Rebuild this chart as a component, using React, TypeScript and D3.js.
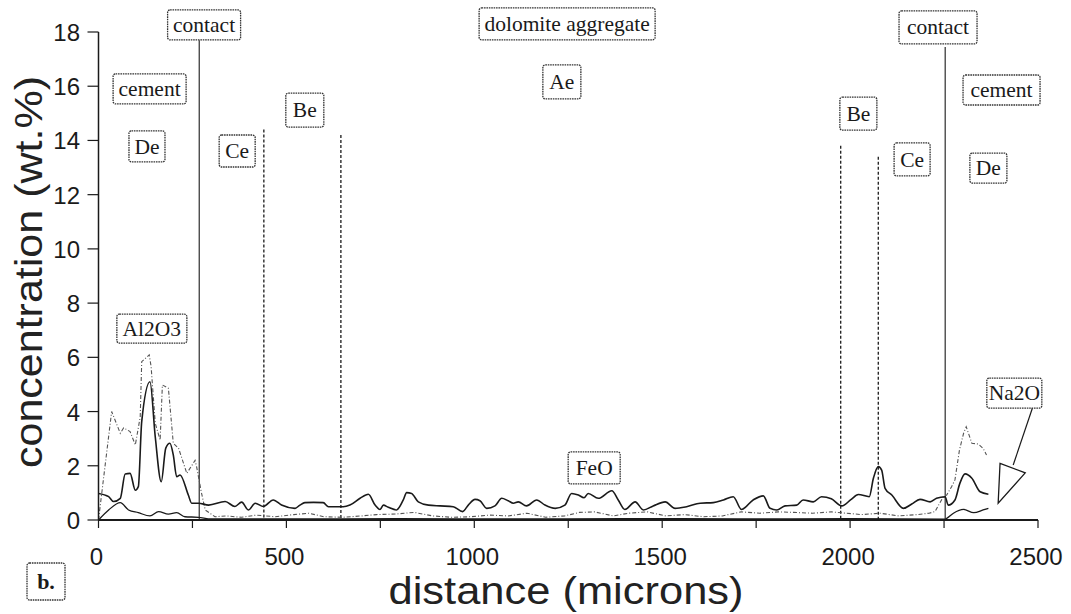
import React from "react";
import * as d3 from "d3";

// ---------- data ----------
const feoX = [0,27,40,58,71,84,98,106,115,137,151,167,179,190,199,208,217,239,248,266,293,337,363,381,399,417,439,465,487,523,536,549,572,598,612,651,669,696,718,736,749,758,771,793,811,820,833,851,878,909,944,969,984,1002,1015,1033,1055,1073,1090,1104,1117,1139,1166,1188,1215,1241,1259,1277,1292,1303,1330,1366,1383,1401,1428,1450,1476,1508,1534,1565,1601,1636,1663,1689,1711,1742,1769,1787,1805,1827,1858,1875,1902,1924,1950,1978,2002,2022,2051,2062,2075,2084,2093,2111,2142,2164,2186,2213,2230,2253,2261,2279,2292,2306,2324,2346,2368];
const feoY = [0.98,0.86,0.68,0.8,1.7,1.72,1.1,1.23,3.63,5.1,3.07,1.41,2.65,2.83,2.4,1.6,1.66,0.92,0.62,0.62,0.55,0.68,0.5,0.66,0.37,0.62,0.5,0.74,0.55,0.43,0.55,0.64,0.65,0.64,0.49,0.49,0.55,0.8,0.95,0.55,0.39,0.55,0.47,0.37,0.74,1.01,0.98,0.67,0.55,0.52,0.49,0.31,0.55,0.76,0.71,0.43,0.52,0.8,0.71,0.62,0.67,0.52,0.74,0.55,0.43,0.55,0.98,0.92,0.82,0.98,0.8,1.08,0.74,0.39,0.67,0.37,0.52,0.67,0.43,0.49,0.62,0.64,0.74,0.86,0.39,0.74,0.89,0.43,0.37,0.52,0.55,0.74,0.67,0.86,0.78,0.52,0.75,0.94,0.86,1.54,1.97,1.84,1.17,0.92,0.43,0.59,0.76,0.67,0.8,0.86,0.55,0.74,1.35,1.7,1.54,1.04,0.95];

const al2o3X = [0,35,58,67,84,98,111,115,135,140,151,164,170,186,199,213,235,257,261,274,284,310,340,380,420,470,520,560,600,650,700,740,790,840,890,940,990,1040,1090,1140,1190,1240,1280,1320,1370,1410,1460,1510,1560,1610,1660,1710,1760,1810,1850,1900,1950,1990,2030,2080,2130,2180,2210,2226,2248,2257,2270,2279,2291,2302,2309,2324,2341,2354,2363];
const al2o3Y = [0,4.0,3.2,3.4,3.26,2.77,3.8,5.84,6.09,5.66,3.57,2.95,4.98,4.86,2.83,2.65,1.72,2.2,1.97,1.0,0.37,0.12,0.15,0.1,0.18,0.12,0.2,0.25,0.12,0.1,0.15,0.2,0.22,0.28,0.15,0.1,0.12,0.18,0.15,0.25,0.1,0.15,0.28,0.3,0.15,0.25,0.3,0.15,0.2,0.12,0.15,0.3,0.25,0.3,0.28,0.25,0.3,0.25,0.2,0.25,0.15,0.2,0.25,0.31,0.86,0.92,1.23,1.48,2.58,3.2,3.44,2.83,2.8,2.64,2.4];

const na2oX = [0,27,58,80,106,137,160,186,208,230,266,300,500,800,1100,1400,1700,2000,2253,2257,2275,2302,2329,2354,2368];
const na2oY = [0,0.37,0.64,0.37,0.27,0.15,0.31,0.22,0.27,0.12,0.1,0.04,0.04,0.05,0.04,0.05,0.04,0.05,0.03,0.06,0.25,0.39,0.27,0.37,0.43];

const xTicks = [0,250,500,750,1000,1250,1500,1750,2000,2250,2500];
const xTickLabels = ["0","","500","","1000","","1500","","2000","","2500"];
const yTicks = [0,2,4,6,8,10,12,14,16,18];

// boundary lines: position (microns), top (wt.%), dashed?
const boundX = [268,440,645,1975,2075,2253];
const boundTop = [17.7,14.4,14.2,13.8,13.4,17.45];
const boundDashed = [false,true,true,true,true,false];

// annotation labels: text, centre x (microns), centre y (wt.%)
const noteText = ["contact","cement","De","Ce","Be","dolomite aggregate","Ae","contact","cement","Be","Ce","De","Na2O","Al2O3","FeO"];
const noteX = [281,136,129,369,549,1247,1233,2234,2403,2022,2165,2368,2437,142,1319];
const noteY = [18.26,15.9,13.78,13.61,15.12,18.3,16.16,18.17,15.86,14.99,13.3,12.98,4.68,7.06,1.92];
const noteW = [73,73,36,36,38,176,38,78,77,37,36,37,55,70,52];
const noteH = [30,30,31,32,34,32,34,33,30,33,33,30,30,29,32];

// Na2O arrow (microns, wt.%)
const arrowLine = [[2485,4.12],[2434,2.03]];
const arrowHead = [[2399,2.09],[2466,1.74],[2394,0.62]];

const W = 1071, H = 614;
const SANS = "'Liberation Sans', Arial, sans-serif";
const SERIF = "'Liberation Serif', 'Times New Roman', serif";
const INK = "#1a1a1a";

export default function App() {
  const x = d3.scaleLinear().domain([0, 2500]).range([98.5, 1038]);
  const y = d3.scaleLinear().domain([0, 18]).range([520, 32]);

  const mk = (xs: number[], ys: number[], curve: any) =>
    d3.line<number>().x((_, i) => x(xs[i])).y((_, i) => y(ys[i])).curve(curve)(xs.map((_, i) => i)) || "";

  const feoPath = mk(feoX, feoY, d3.curveMonotoneX);
  const alPath = mk(al2o3X, al2o3Y, d3.curveLinear);
  const naPath = mk(na2oX, na2oY, d3.curveMonotoneX);

  const box = (t: string, cx: number, cy: number, w: number, h: number, key: string, bold = false, fs = 21.5) => (
    <g key={key}>
      <rect x={cx - w / 2} y={cy - h / 2} width={w} height={h} rx={2.5} fill="#fff"
        stroke="#333" strokeWidth={1.3} strokeDasharray="1.6 0.8" />
      <text x={cx} y={cy + fs * 0.33} textAnchor="middle" fontFamily={SERIF} fontSize={fs}
        fontWeight={bold ? "bold" : "normal"} fill={INK}>{t}</text>
    </g>
  );

  return (
    <svg width={W} height={H} style={{ position: "absolute", left: 0, top: 0, background: "#fff" }}>
      {/* boundary lines */}
      {boundX.map((b, i) => (
        <line key={"b" + i} x1={x(b)} x2={x(b)} y1={y(boundTop[i])} y2={y(0)}
          stroke={INK} strokeWidth={boundDashed[i] ? 1.3 : 1.1}
          strokeDasharray={boundDashed[i] ? "3 2" : undefined} />
      ))}

      {/* series */}
      <path d={naPath} fill="none" stroke={INK} strokeWidth={1.3} />
      <path d={alPath} fill="none" stroke="#555" strokeWidth={1.1} strokeDasharray="4 2 1 2" />
      <path d={feoPath} fill="none" stroke={INK} strokeWidth={1.6} />

      {/* axes */}
      <line x1={x(0)} x2={x(0)} y1={y(18)} y2={y(0)} stroke={INK} strokeWidth={1.5} />
      <line x1={x(0)} x2={x(2500)} y1={y(0)} y2={y(0)} stroke={INK} strokeWidth={2} />
      {yTicks.map((t) => (
        <g key={"yt" + t}>
          <line x1={x(0) - 11} x2={x(0)} y1={y(t)} y2={y(t)} stroke={INK} strokeWidth={1.2} />
          <text x={80} y={y(t) + 9} textAnchor="end" fontFamily={SANS} fontSize={24} fill={INK}>{t}</text>
        </g>
      ))}
      {xTicks.map((t, i) => (
        <g key={"xt" + t}>
          <line x1={x(t)} x2={x(t)} y1={y(0)} y2={y(0) + 8} stroke={INK} strokeWidth={1.2} />
          {xTickLabels[i] && (
            <text x={x(t) - 2} y={565} textAnchor="middle" fontFamily={SANS} fontSize={24} fill={INK}>{xTickLabels[i]}</text>
          )}
        </g>
      ))}

      {/* axis titles */}
      <text x={566} y={604} textAnchor="middle" fontFamily={SANS} fontSize={38} fill="#222"
        textLength={355} lengthAdjust="spacingAndGlyphs">distance (microns)</text>
      <text transform="translate(42,272) rotate(-90)" textAnchor="middle" fontFamily={SANS} fontSize={38} fill="#222"
        textLength={392} lengthAdjust="spacingAndGlyphs">concentration (wt.%)</text>

      {/* annotation boxes */}
      {noteText.map((t, i) => box(t, x(noteX[i]), y(noteY[i]), noteW[i], noteH[i], "n" + i))}

      {/* Na2O arrow */}
      <line x1={x(arrowLine[0][0])} y1={y(arrowLine[0][1])} x2={x(arrowLine[1][0])} y2={y(arrowLine[1][1])}
        stroke={INK} strokeWidth={1.2} />
      <polygon points={arrowHead.map((p) => `${x(p[0])},${y(p[1])}`).join(" ")}
        fill="#fff" stroke={INK} strokeWidth={1.3} />

      {/* panel label */}
      {box("b.", 46, 581.5, 38, 37, "panel", true, 22)}
    </svg>
  );
}
